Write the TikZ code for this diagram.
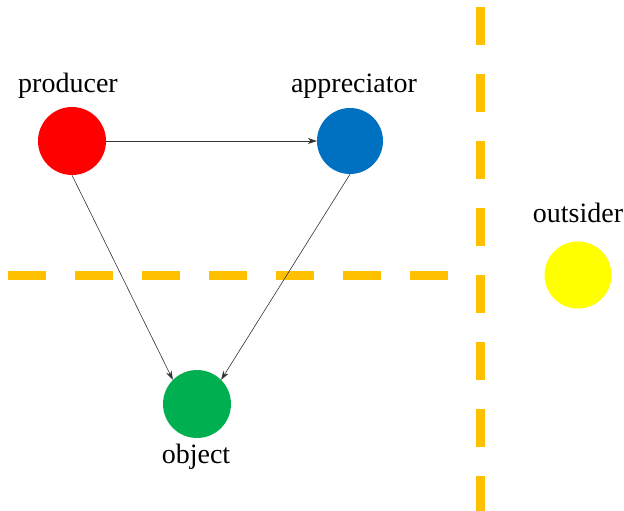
\documentclass[tikz,border=0pt]{standalone}
\usepackage{fontspec}
\setmainfont{Liberation Serif}
\usetikzlibrary{arrows.meta}

\definecolor{prodred}{HTML}{FF0000}
\definecolor{apprblue}{HTML}{0070C0}
\definecolor{objgreen}{HTML}{00B050}
\definecolor{outyellow}{HTML}{FFFF00}
\definecolor{bordergold}{HTML}{FFC000}

\tikzset{
  dot/.style={circle, minimum size=68pt, inner sep=0pt},
  word/.style={font=\fontsize{28}{32}\selectfont},
  link/.style={-{Stealth[length=9pt,width=6pt]}, draw=black!80, line width=0.6pt},
  border/.style={bordergold, line width=9pt, dash pattern=on 38pt off 29pt}
}

\begin{document}
\begin{tikzpicture}[x=1pt, y=-1pt]
    \useasboundingbox (0,0) rectangle (624,511);

    % Boundary lines
    \coordinate (hl) at (8,275);
    \coordinate (hr) at (448,275);
    \coordinate (vt) at (480,7);
    \coordinate (vb) at (480,520);
    \draw[border] (hl) -- (hr);
    \draw[border] (vt) -- (vb);

    % Circles
    \node[dot, fill=prodred] (producer) at (72,141) {};
    \node[dot, fill=apprblue, minimum size=66pt] (appreciator) at (350,141) {};
    \node[dot, fill=objgreen] (object) at (197,404) {};
    \node[dot, fill=outyellow, minimum size=67pt] (outsider) at (578,275) {};

    % Labels
    \node[word] (producerlbl) at (68,86) {producer};
    \node[word] (appreciatorlbl) at (354,86) {appreciator};
    \node[word] (objectlbl) at (196,457) {object};
    \node[word] (outsiderlbl) at (578,213) {outsider};

    % Connections
    \draw[link] (producer.east) -- (appreciator.west);
    \draw[link] (producer.south) -- (object.north west);
    \draw[link] (appreciator.south) -- (object.north east);
\end{tikzpicture}
\end{document}
